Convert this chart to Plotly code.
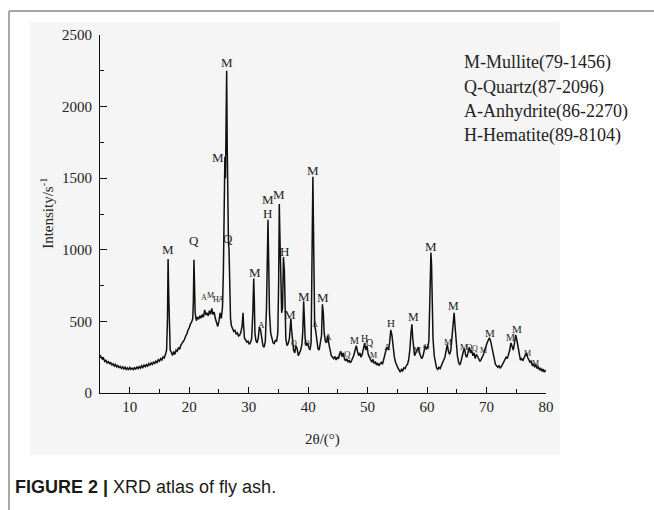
import plotly.graph_objects as go

# ---- XRD pattern (2theta in degrees, intensity in counts/s) ----
two_theta = [
    5.0, 5.2, 5.4, 5.6, 5.8, 6.0, 6.2, 6.4, 6.6, 6.8, 7.0, 7.2, 7.4, 7.6, 7.8, 8.0, 8.2, 8.4, 8.6, 8.8,
    9.0, 9.2, 9.4, 9.6, 9.8, 10.0, 10.2, 10.4, 10.6, 10.8, 11.0, 11.2, 11.4, 11.6, 11.8, 12.0, 12.2, 12.4,
    12.6, 12.8, 13.0, 13.2, 13.4, 13.6, 13.8, 14.0, 14.2, 14.4, 14.6, 14.8, 15.0, 15.2, 15.4, 15.6, 15.8,
    16.0, 16.2, 16.35, 16.45, 16.55, 16.65, 16.8, 17.0, 17.2, 17.4, 17.6, 17.8, 18.0, 18.2, 18.4, 18.6,
    18.8, 19.0, 19.2, 19.4, 19.6, 19.8, 20.0, 20.2, 20.4, 20.6, 20.7, 20.8, 20.9, 21.0, 21.2, 21.4, 21.6,
    21.8, 22.0, 22.2, 22.4, 22.6, 22.8, 23.0, 23.2, 23.4, 23.6, 23.8, 24.0, 24.2, 24.4, 24.6, 24.8, 25.0,
    25.2, 25.4, 25.6, 25.75, 25.9, 26.0, 26.1, 26.2, 26.3, 26.4, 26.5, 26.6, 26.7, 26.8, 26.95, 27.1,
    27.3, 27.5, 27.7, 27.9, 28.1, 28.3, 28.5, 28.7, 28.9, 29.05, 29.15, 29.3, 29.5, 29.7, 29.9, 30.1,
    30.3, 30.5, 30.7, 30.85, 30.95, 31.05, 31.2, 31.4, 31.6, 31.8, 32.0, 32.2, 32.4, 32.6, 32.8, 33.0,
    33.1, 33.25, 33.35, 33.5, 33.7, 33.9, 34.1, 34.3, 34.5, 34.7, 34.9, 35.05, 35.15, 35.25, 35.4,
    35.55, 35.7, 35.85, 36.0, 36.1, 36.25, 36.45, 36.65, 36.85, 37.0, 37.1, 37.2, 37.35, 37.55, 37.75,
    37.95, 38.15, 38.35, 38.55, 38.75, 38.95, 39.1, 39.25, 39.35, 39.5, 39.7, 39.9, 40.1, 40.3, 40.5,
    40.6, 40.7, 40.8, 40.9, 41.0, 41.1, 41.25, 41.45, 41.65, 41.85, 42.05, 42.25, 42.4, 42.55, 42.7,
    42.9, 43.1, 43.3, 43.5, 43.7, 43.9, 44.1, 44.3, 44.5, 44.7, 44.9, 45.1, 45.3, 45.5, 45.7, 45.9, 46.1,
    46.3, 46.5, 46.7, 46.9, 47.1, 47.3, 47.5, 47.7, 47.9, 48.1, 48.3, 48.5, 48.7, 48.9, 49.1, 49.3, 49.5,
    49.7, 49.9, 50.1, 50.3, 50.5, 50.7, 50.9, 51.1, 51.3, 51.5, 51.7, 51.9, 52.1, 52.3, 52.5, 52.7, 52.9,
    53.1, 53.3, 53.5, 53.7, 53.9, 54.1, 54.3, 54.5, 54.7, 54.9, 55.1, 55.3, 55.5, 55.7, 55.9, 56.1, 56.3,
    56.5, 56.7, 56.9, 57.1, 57.3, 57.45, 57.6, 57.75, 57.9, 58.1, 58.3, 58.5, 58.7, 58.9, 59.1, 59.3,
    59.5, 59.7, 59.9, 60.1, 60.3, 60.45, 60.55, 60.65, 60.75, 60.85, 61.0, 61.2, 61.4, 61.6, 61.8, 62.0,
    62.2, 62.4, 62.6, 62.8, 63.0, 63.2, 63.4, 63.6, 63.8, 64.0, 64.2, 64.4, 64.55, 64.7, 64.9, 65.1,
    65.3, 65.5, 65.7, 65.9, 66.1, 66.3, 66.5, 66.7, 66.9, 67.1, 67.3, 67.5, 67.7, 67.9, 68.1, 68.3,
    68.5, 68.7, 68.9, 69.1, 69.3, 69.5, 69.7, 69.9, 70.1, 70.3, 70.5, 70.7, 70.9, 71.1, 71.3, 71.5,
    71.7, 71.9, 72.1, 72.3, 72.5, 72.7, 72.9, 73.1, 73.3, 73.5, 73.7, 73.9, 74.1, 74.3, 74.5, 74.7,
    74.9, 75.1, 75.3, 75.5, 75.7, 75.9, 76.1, 76.3, 76.5, 76.7, 76.9, 77.1, 77.3, 77.5, 77.7, 77.9,
    78.1, 78.3, 78.5, 78.7, 78.9, 79.1, 79.3, 79.5, 79.7, 79.9, 80.0,
]
intensity = [
    265, 248, 236, 242, 220, 228, 210, 218, 205, 212, 196, 204, 188, 199, 182, 192, 178, 186, 172, 183,
    168, 180, 165, 176, 162, 178, 166, 174, 163, 177, 168, 181, 170, 184, 174, 190, 178, 194,
    184, 198, 188, 205, 194, 210, 200, 216, 206, 222, 212, 232, 222, 240, 230, 252, 245,
    268, 300, 520, 935, 700, 380, 300, 285, 262, 290, 270, 300, 292, 318, 305, 335,
    345, 360, 372, 398, 410, 440, 455, 482, 495, 520, 640, 930, 760, 560, 505, 530, 515,
    540, 522, 548, 530, 580, 545, 560, 538, 575, 550, 590, 548, 565, 520, 490, 465, 500,
    560, 520, 600, 850, 1300, 1650, 1500, 1800, 2250, 1700, 1250, 1050, 1000, 700, 520, 470,
    445, 430, 438, 410, 420, 398, 405, 425, 470, 560, 470, 380, 370, 355, 362, 340,
    352, 380, 560, 800, 650, 420, 370, 350, 380, 460, 440, 360, 330, 320, 360, 600,
    1000, 1210, 950, 560, 420, 380, 350, 345, 370, 360, 420, 800, 1320, 1100, 700,
    560, 600, 950, 860, 520, 380, 330, 345, 380, 450, 520, 450, 360, 300, 280,
    330, 310, 260, 280, 300, 340, 430, 640, 560, 380, 330, 350, 320, 300, 350,
    700, 1200, 1510, 1150, 650, 470, 440, 350, 310, 300, 340, 400, 620, 560, 420,
    360, 350, 400, 340, 290, 260, 250, 240, 255, 230, 250, 238, 270, 290, 255, 280, 240,
    225, 240, 215, 230, 210, 225, 245, 265, 300, 330, 290, 260, 280, 250, 270, 310, 350,
    300, 330, 270, 255, 240, 215, 235, 205, 220, 195, 210, 190, 205, 215, 200, 240, 260,
    300, 320, 300, 350, 440, 400, 300, 250, 215, 190, 175, 160, 145, 165, 155, 175, 170,
    190, 200, 230, 300, 420, 480, 380, 290, 260, 280, 300, 320, 280, 260, 240, 255,
    290, 330, 310, 320, 360, 600, 800, 980, 900, 620, 380, 260, 200, 175, 165, 180,
    170, 195, 210, 230, 250, 300, 340, 290, 270, 300, 380, 480, 560, 470, 330, 260,
    215, 195, 220, 260, 290, 310, 260, 250, 290, 320, 280, 300, 260, 280, 240, 270,
    255, 240, 220, 235, 250, 270, 300, 330, 350, 370, 385, 360, 320, 270, 225, 200,
    190, 180, 190, 175, 185, 200, 215, 230, 250, 240, 270, 300, 350, 330, 300, 350,
    405, 370, 320, 260, 230, 240, 225, 245, 260, 280, 250, 230, 215, 225, 190, 205,
    180, 200, 170, 185, 160, 175, 150, 168, 145, 160, 150,
]

# ---- phase labels placed over the diffraction peaks ----
label_text = ["M", "Q", "A", "M", "H", "A", "M", "M", "Q", "M", "A", "M", "H", "M", "H",
              "M", "Q", "M", "O", "M", "A", "M", "A", "A", "Q", "M", "H", "Q", "M", "A",
              "H", "M", "M", "O", "M", "M", "M", "M", "O", "Q", "M", "M", "M", "M", "M", "M"]
label_angle = [16.4, 20.8, 22.5, 23.5, 24.45, 25.3, 26.3, 24.8, 26.6, 31.06, 32.2, 33.25, 33.25, 35.16, 36.0,
               37.03, 37.55, 39.23, 39.75, 40.74, 41.1, 42.43, 43.44, 45.47, 46.65, 47.83, 49.45, 50.35, 50.95, 53.4,
               53.9, 57.69, 58.36, 59.88, 60.72, 63.58, 64.43, 66.2, 67.15, 68.1, 69.45, 70.5, 74.04, 75.2, 76.9, 78.2]
label_level = [1005, 1068, 670, 680, 650, 650, 2310, 1648, 1082, 845, 475, 1348, 1257, 1383, 985,
               550, 349, 677, 349, 1557, 475, 670, 391, 272, 272, 370, 384, 356, 265, 321,
               489, 531, 300, 321, 1020, 356, 607, 321, 321, 310, 300, 419, 391, 447, 279, 209]
label_size = [13, 13, 8, 8, 8, 8, 13, 13, 13, 13, 9, 13, 13, 13, 13,
              13, 8, 13, 8, 13, 8, 13, 9, 9, 9, 10, 10, 10, 8, 9,
              11, 12, 9, 9, 13, 9, 12, 9, 9, 8, 8, 11, 10, 11, 8, 8]

phase_legend = ["M-Mullite(79-1456)", "Q-Quartz(87-2096)",
                "A-Anhydrite(86-2270)", "H-Hematite(89-8104)"]

SERIF = "Liberation Serif, Times New Roman, serif"

fig = go.Figure()
fig.add_trace(go.Scatter(x=two_theta, y=intensity, mode="lines",
                         line=dict(color="#111111", width=1.5), showlegend=False,
                         hoverinfo="skip"))

ann = []
for t, a, v, s in zip(label_text, label_angle, label_level, label_size):
    ann.append(dict(x=a, y=v, xref="x", yref="y", text=t, showarrow=False,
                    xanchor="center", yanchor="middle",
                    font=dict(family=SERIF, size=s, color="#222222")))

leg_y = [0.9218, 0.852, 0.785, 0.718]
for txt, yy in zip(phase_legend, leg_y):
    ann.append(dict(x=0.8117, y=yy, xref="paper", yref="paper", text=txt, showarrow=False,
                    xanchor="left", yanchor="middle",
                    font=dict(family=SERIF, size=18, color="#222222")))

ann.append(dict(x=-0.119, y=0.503, xref="paper", yref="paper", text="Intensity/s<sup>-1</sup>",
                textangle=-90, showarrow=False, xanchor="center", yanchor="middle",
                font=dict(family=SERIF, size=15, color="#222222")))
ann.append(dict(x=0.498, y=-0.131, xref="paper", yref="paper", text="2θ/(°)",
                showarrow=False, xanchor="center", yanchor="middle",
                font=dict(family=SERIF, size=15, color="#222222")))
ann.append(dict(x=-0.195, y=-0.263, xref="paper", yref="paper",
                text="<b>FIGURE 2 |</b> XRD atlas of fly ash.",
                showarrow=False, xanchor="left", yanchor="middle",
                font=dict(family="Liberation Sans Narrow, Liberation Sans, Arial", size=18,
                          color="#1a1a1a")))

shapes = [
    dict(type="rect", xref="paper", yref="paper", x0=-0.157, x1=1.031, y0=-0.173, y1=1.036,
         fillcolor="#f5f5f5", line=dict(width=0), layer="below"),
    dict(type="line", xref="paper", yref="paper", x0=-0.204, x1=1.25, y0=1.067, y1=1.067,
         line=dict(color="#8a8a8a", width=1.5)),
    dict(type="line", xref="paper", yref="paper", x0=-0.204, x1=-0.204, y0=1.067, y1=-0.35,
         line=dict(color="#8a8a8a", width=1.5)),
]

fig.update_layout(
    width=654, height=510,
    margin=dict(l=100, r=108, t=35, b=117),
    paper_bgcolor="white", plot_bgcolor="rgba(0,0,0,0)",
    annotations=ann, shapes=shapes,
    font=dict(family=SERIF, size=15, color="#222222"),
)
fig.update_xaxes(range=[5, 80], tick0=0, dtick=10, showgrid=False, zeroline=False,
                 showline=True, linecolor="#111111", linewidth=1.2,
                 ticks="inside", ticklen=6, tickwidth=1, tickcolor="#111111",
                 minor=dict(dtick=5, tick0=0, ticks="inside", ticklen=4, tickcolor="#111111"),
                 tickfont=dict(family=SERIF, size=15, color="#222222"))
fig.update_yaxes(range=[0, 2500], tick0=0, dtick=500, showgrid=False, zeroline=False,
                 showline=True, linecolor="#111111", linewidth=1.2,
                 ticks="inside", ticklen=7, tickwidth=1, tickcolor="#111111",
                 minor=dict(dtick=250, tick0=0, ticks="inside", ticklen=4, tickcolor="#111111"),
                 tickfont=dict(family=SERIF, size=15, color="#222222"), ticklabelstandoff=4)

fig.write_html("out.html")
